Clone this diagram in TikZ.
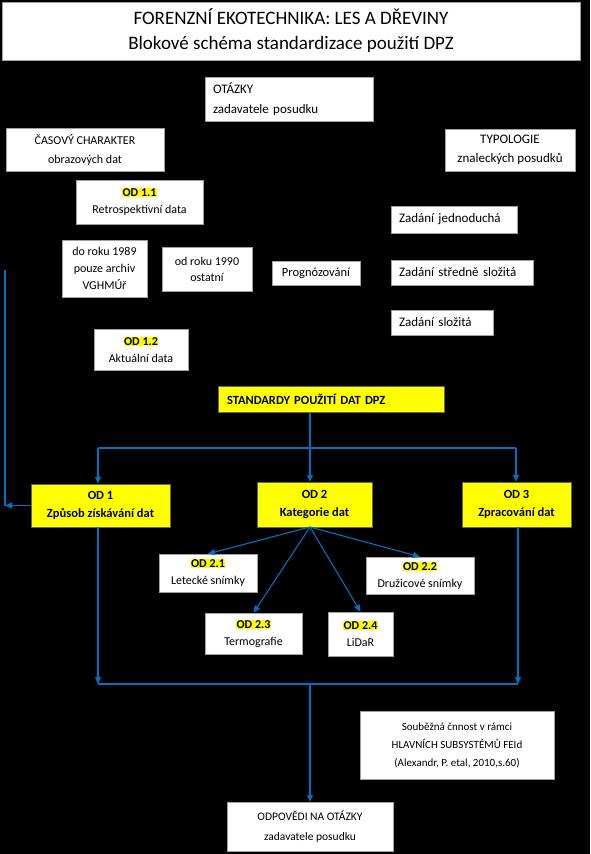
\documentclass[tikz,border=0pt]{standalone}
\usepackage{fontspec}
\setmainfont{Carlito}
\usetikzlibrary{arrows.meta, positioning}
\definecolor{linkblue}{RGB}{0, 112, 192}
\definecolor{hlyellow}{RGB}{255, 255, 0}
\definecolor{boxgray}{RGB}{160, 160, 160}
\newcommand{\odlabel}[1]{{\setlength{\fboxsep}{0.6pt}\colorbox{hlyellow}{\textbf{#1}}}}

\begin{document}
\begin{tikzpicture}[x=1pt, y=-1pt,
    wbox/.style={draw=boxgray, fill=white, inner sep=0pt, align=center, font=\fontsize{12}{17}\selectfont},
    ybox/.style={draw=black!60, fill=hlyellow, inner sep=0pt, align=center, font=\bfseries\fontsize{12.5}{18}\selectfont},
    link/.style={draw=linkblue, line width=1.1pt},
    arrow/.style={link, -{Triangle[width=6pt, length=7pt]}}]
    % Background
    \fill[black] (0,0) rectangle (590,854);
    \useasboundingbox (0,0) rectangle (590,854);

    % Title
    \node[wbox, minimum width=578, minimum height=58, font=\fontsize{19}{25}\selectfont] (title) at (291,31)
        {FORENZNÍ EKOTECHNIKA: LES A DŘEVINY\\Blokové schéma standardizace použití DPZ};

    % Upper part
    \node[wbox, minimum width=168, minimum height=44, text width=152, align=left, font=\fontsize{13}{20}\selectfont] (otazky) at (289,99)
        {OTÁZKY\\zadavatele posudku};
    \node[wbox, minimum width=158, minimum height=43, font=\fontsize{12}{19}\selectfont] (casovy) at (85,149.5)
        {ČASOVÝ CHARAKTER\\obrazových dat};
    \node[wbox, minimum width=130, minimum height=42, font=\fontsize{13}{19}\selectfont] (typologie) at (510,150)
        {TYPOLOGIE\\znaleckých posudků};
    \node[wbox, minimum width=127, minimum height=44] (od11) at (139.5,202)
        {\odlabel{OD 1.1}\\Retrospektivní data};
    \node[wbox, minimum width=85, minimum height=57] (do1989) at (104.5,268.5)
        {do roku 1989\\pouze archiv\\VGHMÚř};
    \node[wbox, minimum width=90, minimum height=44, font=\fontsize{12}{16}\selectfont] (od1990) at (207,269)
        {od roku 1990\\ostatní};
    \node[wbox, minimum width=88, minimum height=24, font=\fontsize{12.5}{15}\selectfont] (prognoz) at (316,273) {Prognózování};
    \node[wbox, minimum width=94, minimum height=41] (od12) at (141,349.5)
        {\odlabel{OD 1.2}\\Aktuální data};

    % Typology of assignments
    \node[wbox, minimum width=126, minimum height=27, text width=110, align=left, font=\fontsize{13}{15}\selectfont] (zad1) at (454,219.5)
        {Zadání jednoduchá};
    \node[wbox, minimum width=142, minimum height=25, text width=126, align=left, font=\fontsize{13}{15}\selectfont] (zad2) at (462,272.5)
        {Zadání středně složitá};
    \node[wbox, minimum width=102, minimum height=25, text width=86, align=left, font=\fontsize{13}{15}\selectfont] (zad3) at (442,322.5)
        {Zadání složitá};

    % Standards
    \node[ybox, minimum width=226, minimum height=26, text width=208, align=left, font=\bfseries\fontsize{12.5}{14}\selectfont] (standardy) at (331,399)
        {STANDARDY POUŽITÍ DAT DPZ};
    \node[ybox, minimum width=139, minimum height=43] (od1) at (100.5,505.5)
        {OD 1\\Způsob získávání dat};
    \node[ybox, minimum width=115, minimum height=45] (od2) at (314.5,504.5)
        {OD 2\\Kategorie dat};
    \node[ybox, minimum width=109, minimum height=45] (od3) at (516.5,504.5)
        {OD 3\\Zpracování dat};

    % Data categories
    \node[wbox, minimum width=98, minimum height=38] (od21) at (208,573)
        {\odlabel{OD 2.1}\\Letecké snímky};
    \node[wbox, minimum width=108, minimum height=37] (od22) at (420,575.5)
        {\odlabel{OD 2.2}\\Družicové snímky};
    \node[wbox, minimum width=97, minimum height=41] (od23) at (253.5,633.5)
        {\odlabel{OD 2.3}\\Termografie};
    \node[wbox, minimum width=65, minimum height=44] (od24) at (360.5,634)
        {\odlabel{OD 2.4}\\LiDaR};

    % Bottom part
    \node[wbox, minimum width=194, minimum height=68, font=\fontsize{11}{18}\selectfont] (soubezna) at (457,745)
        {Souběžná čnnost v rámci\\HLAVNÍCH SUBSYSTÉMŮ FEId\\(Alexandr, P. etal, 2010,s.60)};
    \node[wbox, minimum width=166, minimum height=49, font=\fontsize{11.5}{20}\selectfont] (odpovedi) at (310,826.5)
        {ODPOVĚDI NA OTÁZKY\\zadavatele posudku};

    % Connectors from the standards
    \coordinate (stdfoot) at (310,412);
    \coordinate (splitL) at (98,448);
    \coordinate (splitR) at (516,448);
    \draw[arrow] (stdfoot) -- (stdfoot |- od2.north);
    \draw[link] (splitL) -- (splitR);
    \draw[arrow] (splitL) -- (splitL |- od1.north);
    \draw[arrow] (splitR) -- (splitR |- od3.north);

    % Feedback line on the left
    \coordinate (backtop) at (5,270);
    \draw[link] (backtop) -- (backtop |- od1.west);
    \draw[arrow] (od1.west) -- (od1.west -| backtop);

    % Fan to the data categories
    \coordinate (fan) at (310,527);
    \foreach \target in {od21, od22, od23, od24}
        \draw[arrow] (fan) -- (\target.north);

    % Joining to the answers
    \coordinate (joinL) at (98,684);
    \coordinate (joinR) at (518,684);
    \coordinate (joinM) at (310,684);
    \draw[arrow] (joinL |- od1.south) -- (joinL);
    \draw[arrow] (joinR |- od3.south) -- (joinR);
    \draw[link] (joinL) -- (joinR);
    \draw[arrow] (joinM) -- (odpovedi.north);
\end{tikzpicture}
\end{document}
